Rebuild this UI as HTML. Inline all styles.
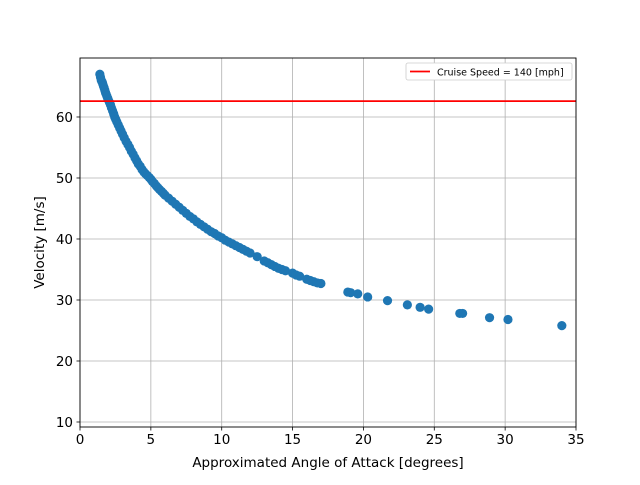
<!DOCTYPE html>
<html><head><meta charset="utf-8"><style>
body{margin:0;background:#fff}
svg text{font-family:"DejaVu Sans","Liberation Sans",sans-serif;fill:#000}
</style></head><body>
<svg id="c" width="640" height="480" xmlns="http://www.w3.org/2000/svg">
<rect width="640" height="480" fill="#fff"/>
<g id="grid"></g><g id="marks"></g><g id="axes"></g>
</svg>
<script>
const xs=[1.4,1.45,1.5,1.55,1.6,1.65,1.7,1.75,1.8,1.85,1.9,1.95,2.0,2.08,2.15,2.22,2.3,2.38,2.45,2.52,2.6,2.7,2.8,2.9,3.0,3.12,3.25,3.38,3.5,3.62,3.75,3.88,4.0,4.12,4.25,4.38,4.5,4.62,4.75,4.88,5.0,5.12,5.25,5.38,5.5,5.62,5.75,5.88,6.0,6.25,6.5,6.75,7.0,7.25,7.5,7.75,8.0,8.25,8.5,8.75,9.0,9.25,9.5,9.75,10,10.25,10.5,10.75,11,11.25,11.5,11.75,12,12.5,13,13.25,13.5,13.75,14,14.25,14.5,15,15.25,15.5,16,16.25,16.5,16.75,17,18.9,19.1,19.6,20.3,21.7,23.1,24.0,24.6,26.8,27.0,28.9,30.2,34.0];
const vs=[67,66.5,66,65.8,65.5,65.1,64.8,64.4,64,63.7,63.4,63.1,62.8,62.4,62,61.5,61,60.5,60,59.6,59.2,58.7,58.2,57.7,57.2,56.6,56,55.5,55,54.4,53.9,53.3,52.8,52.3,51.9,51.4,51,50.7,50.4,50.1,49.8,49.4,49.1,48.7,48.4,48.1,47.8,47.5,47.2,46.7,46.2,45.7,45.2,44.7,44.2,43.7,43.3,42.8,42.4,42,41.6,41.2,40.9,40.5,40.2,39.8,39.5,39.2,38.9,38.6,38.3,38,37.7,37.1,36.4,36.1,35.8,35.5,35.2,35,34.8,34.4,34.1,33.9,33.4,33.2,33.0,32.8,32.7,31.3,31.2,31.0,30.5,29.9,29.2,28.8,28.5,27.8,27.8,27.1,26.8,25.8];
const xTicks=[0,5,10,15,20,25,30,35];
const yTicks=[10,20,30,40,50,60];
const cruise=[62.6];
const L=80,R=576,T=58,B=427,x0=0,x1=35,y0=9.18,y1=69.67;
const X=v=>L+(v-x0)/(x1-x0)*(R-L), Y=v=>B-(v-y0)/(y1-y0)*(B-T);
const NS="http://www.w3.org/2000/svg";
function mk(p,t,a){const e=document.createElementNS(NS,t);for(const k in a)e.setAttribute(k,a[k]);document.getElementById(p).appendChild(e);return e;}
xTicks.forEach(t=>{const g=mk('grid','line',{x1:X(t),x2:X(t),y1:T,y2:B,stroke:'#b0b0b0','stroke-width':0.8});

const k=mk('axes','line',{x1:X(t),x2:X(t),y1:B,y2:B+3.5,stroke:'#000','stroke-width':0.8});

const l=mk('axes','text',{x:X(t),y:B+17,'text-anchor':'middle','font-size':13.5});l.textContent=t;
});
yTicks.forEach(t=>{const g=mk('grid','line',{x1:L,x2:R,y1:Y(t),y2:Y(t),stroke:'#b0b0b0','stroke-width':0.8});

const k=mk('axes','line',{x1:L-3.5,x2:L,y1:Y(t),y2:Y(t),stroke:'#000','stroke-width':0.8});

const l=mk('axes','text',{x:L-7,y:Y(t)+5,'text-anchor':'end','font-size':13.5});l.textContent=t;
});
xs.forEach((x,i)=>{const c=mk('marks','circle',{cx:X(x),cy:Y(vs[i]),r:4.6,fill:'#1f77b4'});
});
const cl=mk('marks','line',{x1:L,x2:R,y1:Y(cruise[0]),y2:Y(cruise[0]),stroke:'#ff0000','stroke-width':1.8});

const fr=mk('axes','rect',{x:L,y:T,width:R-L,height:B-T,fill:'none',stroke:'#000','stroke-width':0.9});

const xt=mk('axes','text',{x:(L+R)/2,y:467,'text-anchor':'middle','font-size':13.5});xt.textContent='Approximated Angle of Attack [degrees]';

const yt=mk('axes','text',{x:0,y:0,'text-anchor':'middle','font-size':13.5,transform:`translate(44,${(T+B)/2}) rotate(-90)`});yt.textContent='Velocity [m/s]';

const lb=mk('axes','rect',{x:406,y:63,width:166,height:17,fill:'#fff',stroke:'#ccc','stroke-width':0.8,rx:2});

const ll=mk('axes','line',{x1:410,x2:430,y1:71.5,y2:71.5,stroke:'#ff0000','stroke-width':1.8});

const lt=mk('axes','text',{x:437,y:75.5,'font-size':9.5});lt.textContent='Cruise Speed = 140 [mph]';

</script>
</body></html>
